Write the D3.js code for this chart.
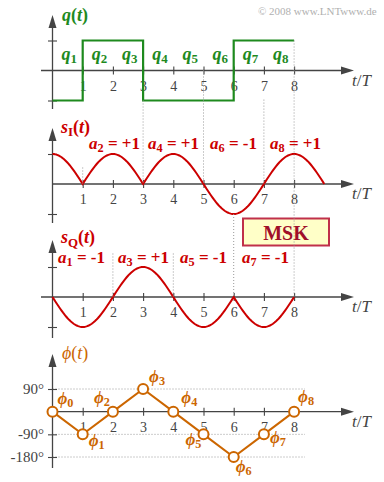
<!DOCTYPE html>
<html><head><meta charset="utf-8">
<script src="https://cdn.jsdelivr.net/npm/d3@7"></script>
<style>
html,body{margin:0;padding:0;background:#fff;}
svg{display:block;}
text{font-family:"Liberation Serif","Times New Roman",serif;}
</style></head>
<body>
<script>
// ---------- data ----------
const tickValues = [1,2,3,4,5,6,7,8];
const qValues = [-1, 1, 1, -1, -1, -1, 1, 1];          // q1..q8
const aEvenIdx = [0, 2, 4, 6, 8];                        // in-phase symbols
const aEven    = [1, 1, 1, -1, 1];                       // a0 (implicit), a2, a4, a6, a8
const aOddIdx  = [1, 3, 5, 7];                           // quadrature symbols
const aOdd     = [-1, 1, -1, -1];                        // a1, a3, a5, a7
const phiT     = [0,1,2,3,4,5,6,7,8];
const phiDeg   = [0, -90, 0, 90, 0, -90, -180, -90, 0];  // phi0..phi8
const phiTicks = [90, -90, -180];
const phiTickLabels = ["90°", "-90°", "-180°"];

// ---------- layout ----------
const W = 384, H = 482;
const green = "#1e8a1e", red = "#cc0000", orange = "#cc6600", axisC = "#444", gridC = "#999";
const svg = d3.select("body").append("svg").attr("width", W).attr("height", H);

const x = d3.scaleLinear().domain([0, 9]).range([52.5, 324.3]);
const y1 = d3.scaleLinear().domain([-1, 1]).range([100.5, 40.5]);
const y2 = d3.scaleLinear().domain([-1, 1]).range([214, 154]);
const y3 = d3.scaleLinear().domain([-1, 1]).range([327, 267]);
const y4 = d3.scaleLinear().domain([-180, 90]).range([457, 389]);

const gMain = svg.append("g");

// copyright
svg.append("text").attr("x", 258).attr("y", 15).attr("font-size", 11).attr("fill", "#b0b0b0")
  .text("© 2008 www.LNTwww.de");

// helper for rich labels: part {t, i (italic), b (bold, default true), s (small), dy}
function rich(g, px, py, parts, color, size) {
  const t = g.append("text").attr("x", px).attr("y", py).attr("fill", color).attr("font-size", size);
  parts.forEach(p => {
    const ts = t.append("tspan").text(p.t);
    if (p.i) ts.attr("font-style", "italic");
    if (p.b !== false) ts.attr("font-weight", "bold");
    if (p.s) ts.attr("font-size", size * 0.72);
    if (p.dy) ts.attr("dy", p.dy);
  });
  return t;
}

// axes
function drawAxes(ys, xStart, yTop, yBottom, yTickVals) {
  const y0 = ys(0);
  const g = gMain.append("g");
  g.append("line").attr("x1", xStart).attr("x2", 342).attr("y1", y0).attr("y2", y0)
    .attr("stroke", axisC).attr("stroke-width", 1.3);
  g.append("path").attr("d", `M341,${y0-4}L354,${y0}L341,${y0+4}Z`).attr("fill", axisC);
  const x0 = x(0);
  g.append("line").attr("x1", x0).attr("x2", x0).attr("y1", yTop + 10).attr("y2", yBottom)
    .attr("stroke", axisC).attr("stroke-width", 1.3);
  g.append("path").attr("d", `M${x0-4},${yTop+13}L${x0},${yTop}L${x0+4},${yTop+13}Z`).attr("fill", axisC);
  const ax = d3.axisBottom(x).tickValues(tickValues).tickSize(4).tickFormat(d3.format("d"));
  const ga = g.append("g").attr("transform", `translate(0,${y0})`).call(ax);
  ga.select(".domain").remove();
  ga.selectAll(".tick line").attr("y1", -4).attr("y2", 4).attr("stroke", axisC).attr("stroke-width", 1.1);
  ga.selectAll(".tick text").attr("y", 20).attr("dy", 0).attr("fill", axisC)
    .attr("font-size", 14).attr("font-family", '"Liberation Serif",serif');
  const ay = d3.axisLeft(ys).tickValues(yTickVals).tickSize(4).tickFormat("");
  const gy = g.append("g").attr("transform", `translate(${x0},0)`).call(ay);
  gy.select(".domain").remove();
  gy.selectAll(".tick line").attr("x1", -4.5).attr("x2", 4.5).attr("stroke", axisC).attr("stroke-width", 1.1);
  rich(g, 352, y0 + 15, [{t:"t", i:true, b:false}, {t:"/", b:false}, {t:"T", i:true, b:false}], axisC, 17);
  return g;
}

// ---------- dotted guide lines ----------
const guides = [
  [1, y2(0.55), y2(0)], [2, y3(1.45), y3(0)], [3, y1(-1), y2(0)], [4, y3(1.45), y3(0)],
  [5, y1(0), y2(0)], [6, y2(-1), y3(0)], [7, y1(-0.97), y2(0)], [8, y1(1), y3(0)]
];

// ---------- panel 1: q(t) ----------
drawAxes(y1, 41, 15, 109, [1, -1]);
const qPts = [];
qValues.forEach((v, i) => { qPts.push([i, v]); qPts.push([i + 1, v]); });
gMain.append("path").attr("d", d3.line().x(d => x(d[0])).y(d => y1(d[1]))(qPts))
  .attr("fill", "none").attr("stroke", green).attr("stroke-width", 2.2);
qValues.forEach((v, i) => {
  rich(gMain, x(i + 0.5) - 6, 60, [{t:"q", i:true}, {t:String(i + 1), s:true, dy:3}], green, 18);
});
rich(gMain, 62, 21, [{t:"q", i:true}, {t:"("}, {t:"t", i:true}, {t:")"}], green, 18);

// ---------- panel 2: s_I(t) ----------
drawAxes(y2, 52.5, 128, 223, [1, -1]);
function segPts(center, amp, tStart, tEnd) {
  const pts = [];
  for (let k = 0; k <= 40; k++) {
    const t = tStart + (tEnd - tStart) * k / 40;
    pts.push([t, amp * Math.cos(Math.PI * (t - center) / 2)]);
  }
  return pts;
}
let sI = [];
aEvenIdx.forEach((c, i) => { sI = sI.concat(segPts(c, aEven[i], Math.max(0, c - 1), c + 1)); });
gMain.append("path").attr("d", d3.line().x(d => x(d[0])).y(d => y2(d[1]))(sI))
  .attr("fill", "none").attr("stroke", red).attr("stroke-width", 2);
rich(gMain, 61, 133, [{t:"s", i:true}, {t:"I", s:true, dy:3}, {t:"(", dy:-3}, {t:"t", i:true}, {t:")"}], red, 18);
const aIPos = [89, 148, 210, 270];
aEvenIdx.slice(1).forEach((k, i) => {
  const v = aEven[i + 1];
  rich(gMain, aIPos[i], 149, [{t:"a", i:true}, {t:String(k), s:true, dy:3}, {t:" = " + (v > 0 ? "+1" : "-1"), dy:-3}], red, 17);
});

// ---------- panel 3: s_Q(t) ----------
drawAxes(y3, 41, 240, 338, [1, -1]);
let sQ = [];
aOddIdx.forEach((c, i) => { sQ = sQ.concat(segPts(c, aOdd[i], c - 1, c + 1)); });
gMain.append("path").attr("d", d3.line().x(d => x(d[0])).y(d => y3(d[1]))(sQ))
  .attr("fill", "none").attr("stroke", red).attr("stroke-width", 2);
rich(gMain, 61, 243, [{t:"s", i:true}, {t:"Q", s:true, dy:4}, {t:"(", dy:-4}, {t:"t", i:true}, {t:")"}], red, 18);
const aQPos = [58, 118, 180, 242];
aOddIdx.forEach((k, i) => {
  const v = aOdd[i];
  rich(gMain, aQPos[i], 263, [{t:"a", i:true}, {t:String(k), s:true, dy:3}, {t:" = " + (v > 0 ? "+1" : "-1"), dy:-3}], red, 17);
});

// MSK box
gMain.append("rect").attr("x", 243).attr("y", 218.5).attr("width", 86).attr("height", 27)
  .attr("fill", "#ffffc8").attr("stroke", "#c0304a").attr("stroke-width", 2);
gMain.append("text").attr("x", 286).attr("y", 240).attr("text-anchor", "middle")
  .attr("font-size", 20).attr("font-weight", "bold").attr("fill", "#a0102a").text("MSK");

// ---------- panel 4: phi(t) ----------
phiTicks.forEach(v => {
  gMain.append("line").attr("x1", x(0)).attr("x2", 305).attr("y1", y4(v)).attr("y2", y4(v))
    .attr("stroke", gridC).attr("stroke-dasharray", "1,2");
});
drawAxes(y4, 52.5, 354, 468, phiTicks);
phiTicks.forEach((v, i) => {
  gMain.append("text").attr("x", 44).attr("y", y4(v) + 4.5).attr("text-anchor", "end")
    .attr("font-size", 15).attr("fill", axisC).text(phiTickLabels[i]);
});
const phiData = phiT.map((t, i) => [t, phiDeg[i]]);
gMain.append("path").attr("d", d3.line().x(d => x(d[0])).y(d => y4(d[1]))(phiData))
  .attr("fill", "none").attr("stroke", orange).attr("stroke-width", 2);
gMain.selectAll("circle.p").data(phiData).enter().append("circle")
  .attr("cx", d => x(d[0])).attr("cy", d => y4(d[1])).attr("r", 5)
  .attr("fill", "#fff").attr("stroke", orange).attr("stroke-width", 2);
const phiLabelOffsets = [[5,-8],[6,12],[-19,-9],[6,-7],[8,-9],[-18,11],[2,15],[6,9],[4,-10]];
phiData.forEach((d, i) => {
  rich(gMain, x(d[0]) + phiLabelOffsets[i][0], y4(d[1]) + phiLabelOffsets[i][1],
    [{t:"ϕ", i:true}, {t:String(i), s:true, dy:3}], orange, 17);
});
rich(gMain, 62, 359, [{t:"ϕ", i:true, b:false}, {t:"(", b:false}, {t:"t", i:true, b:false}, {t:")", b:false}], orange, 18);

// dotted guides on top
guides.forEach(g => {
  svg.append("line").attr("x1", x(g[0])).attr("x2", x(g[0])).attr("y1", g[1]).attr("y2", g[2])
    .attr("stroke", gridC).attr("stroke-dasharray", "1,2").attr("stroke-width", 1);
});
</script>
</body></html>
